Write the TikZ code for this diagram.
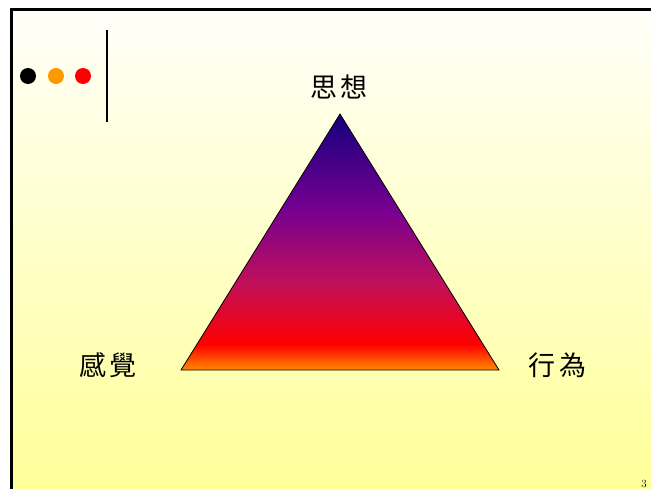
\documentclass[tikz,border=0pt]{standalone}
\usepackage{fontspec}
\newfontfamily\cjk{Noto Sans CJK TC}
\definecolor{navyc}{HTML}{14007F}
\definecolor{purplec}{HTML}{780090}
\definecolor{magc}{HTML}{C0105A}
\definecolor{redc}{HTML}{FF0000}
\definecolor{orangec}{HTML}{FF8A00}
\definecolor{bgtop}{HTML}{FFFFFA}
\definecolor{bgbot}{HTML}{FFFF99}
\definecolor{dotorange}{HTML}{FF9900}
\pgfdeclareverticalshading{trishade}{100bp}{color(0bp)=(orangec); color(25bp)=(orangec); color(30bp)=(redc); color(42bp)=(magc); color(56bp)=(purplec); color(75bp)=(navyc); color(100bp)=(navyc)}
\tikzset{
  lbl/.style={font=\cjk\fontsize{27}{30}\selectfont, inner sep=0pt},
  dotc/.style={circle, inner sep=0pt, minimum size=16pt},
}
\begin{document}
\begin{tikzpicture}[x=1pt,y=1pt]
\useasboundingbox (0,0) rectangle (651,-488);
\clip (0,0) rectangle (651,-488);
\fill[white] (0,0) rectangle (651,-488);
% slide background
\shade[top color=bgtop, bottom color=bgbot] (11,-9) rectangle (700,-488);
\draw[line width=3pt] (11,-560) -- (11,-9) -- (700,-9);
% bullets
\node[dotc, fill=black] (d1) at (28,-76) {};
\node[dotc, fill=dotorange] (d2) at (56,-76) {};
\node[dotc, fill=red] (d3) at (83,-76) {};
\coordinate (vt) at (107,-30);
\coordinate (vb) at (107,-122);
\draw[line width=2.5pt] (vt) -- (vb);
% triangle
\coordinate (A) at (340,-114);
\coordinate (B) at (181,-370);
\coordinate (C) at (499,-370);
\shade[shading=trishade] (A) -- (B) -- (C) -- cycle;
\draw[line width=0.8pt, line join=miter] (A) -- (B) -- (C) -- cycle;
% labels
\node[lbl] (t1) at (339,-87) {思\hspace{4pt}想};
\node[lbl] (t2) at (108,-365) {感\hspace{4pt}覺};
\node[lbl] (t3) at (557,-365) {行\hspace{4pt}為};
\node[font=\fontsize{11}{12}\selectfont, anchor=north, inner sep=0pt] (pg) at (644,-480) {3};
\end{tikzpicture}
\end{document}
